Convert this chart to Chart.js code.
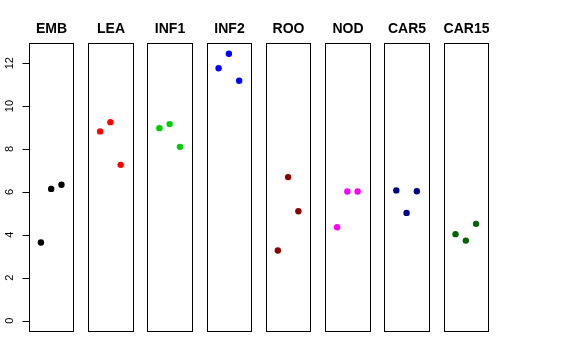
<!DOCTYPE html>
<html>
<head>
<meta charset="utf-8">
<script src="https://cdn.jsdelivr.net/npm/chart.js@4/dist/chart.umd.min.js"></script>
<style>
html,body{margin:0;padding:0;background:#fff;}
#wrap{position:relative;width:576px;height:360px;}
</style>
</head>
<body>
<div id="wrap"><canvas id="c" width="576" height="360"></canvas></div>
<script>
const categories = ['EMB','LEA','INF1','INF2','ROO','NOD','CAR5','CAR15'];
const colors = ['#000000','#FF0000','#00CD00','#0000FF','#8B0000','#FF00FF','#00008B','#006400'];
const values = {
  EMB:   [3.64, 6.14, 6.33],
  LEA:   [8.82, 9.25, 7.26],
  INF1:  [8.97, 9.16, 8.10],
  INF2:  [11.76, 12.44, 11.18],
  ROO:   [3.27, 6.69, 5.10],
  NOD:   [4.35, 6.02, 6.02],
  CAR5:  [6.07, 5.02, 6.03],
  CAR15: [4.03, 3.73, 4.51]
};
const yTicks = [0, 2, 4, 6, 8, 10, 12];

const PANEL_STEP = 5.764;   // panel spacing in x units
const PANEL_LO = -0.16, PANEL_HI = 4.16;

const datasets = categories.map((cat, i) => ({
  label: cat,
  data: values[cat].map((v, j) => ({x: i * PANEL_STEP + (j + 1), y: v})),
  backgroundColor: colors[i],
  borderColor: colors[i],
  pointRadius: 3.2,
  pointBorderWidth: 0,
  pointHoverRadius: 3.2
}));

const panelPlugin = {
  id: 'panels',
  beforeDatasetsDraw(chart) {
    const ctx = chart.ctx;
    const xs = chart.scales.x, ys = chart.scales.y;
    const top = chart.chartArea.top, bottom = chart.chartArea.bottom;
    ctx.save();
    ctx.strokeStyle = '#000';
    ctx.lineWidth = 1;
    categories.forEach((cat, i) => {
      const l = Math.round(xs.getPixelForValue(i * PANEL_STEP + PANEL_LO)) + 0.5;
      const r = Math.round(xs.getPixelForValue(i * PANEL_STEP + PANEL_HI)) + 0.5;
      ctx.strokeRect(l, Math.round(top) + 0.5, r - l, Math.round(bottom - top));
      ctx.fillStyle = '#000';
      ctx.font = 'bold 14px "Liberation Sans", Arial, sans-serif';
      ctx.textAlign = 'center';
      ctx.textBaseline = 'middle';
      ctx.fillText(cat, (l + r) / 2, 29);
    });
    // y axis
    const ax = Math.round(xs.getPixelForValue(PANEL_LO)) + 0.5;
    ctx.beginPath();
    ctx.moveTo(ax, ys.getPixelForValue(yTicks[0]));
    ctx.lineTo(ax, ys.getPixelForValue(yTicks[yTicks.length - 1]));
    yTicks.forEach(t => {
      const py = Math.round(ys.getPixelForValue(t)) + 0.5;
      ctx.moveTo(ax, py);
      ctx.lineTo(ax - 7, py);
    });
    ctx.stroke();
    ctx.font = '11px "Liberation Sans", Arial, sans-serif';
    yTicks.forEach(t => {
      const py = ys.getPixelForValue(t);
      ctx.save();
      ctx.translate(10, py);
      ctx.rotate(-Math.PI / 2);
      ctx.textAlign = 'center';
      ctx.textBaseline = 'middle';
      ctx.fillText(String(t), 0, 0);
      ctx.restore();
    });
    ctx.restore();
  }
};

new Chart(document.getElementById('c'), {
  type: 'scatter',
  data: { datasets },
  options: {
    responsive: false,
    animation: false,
    devicePixelRatio: 1,
    layout: { padding: { left: 29, right: 88, top: 43, bottom: 29 } },
    plugins: { legend: { display: false }, tooltip: { enabled: false } },
    scales: {
      x: { type: 'linear', display: false, min: PANEL_LO, max: 7 * PANEL_STEP + PANEL_HI },
      y: { type: 'linear', display: false, min: -0.485, max: 12.94 }
    }
  },
  plugins: [panelPlugin]
});
</script>
</body>
</html>
